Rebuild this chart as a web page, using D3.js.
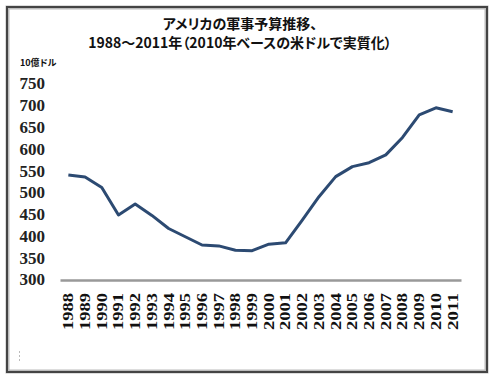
<!DOCTYPE html>
<html><head><meta charset="utf-8">
<script src="https://cdn.jsdelivr.net/npm/d3@7"></script>
<style>body{margin:0;background:#fff;}svg{display:block;}.cjk{font-feature-settings:"palt";}</style>
</head><body>
<svg id="c" width="500" height="375"></svg>
<script>
const years = ["1988","1989","1990","1991","1992","1993","1994","1995","1996","1997","1998","1999","2000","2001","2002","2003","2004","2005","2006","2007","2008","2009","2010","2011"];
const spending = [539,534,510,447,472,446,416,397,378,376,366,365,380,383,435,489,535,558,567,585,625,677,693,684];
const yTicks = [300,350,400,450,500,550,600,650,700,750];
const titleLines = ["アメリカの軍事予算推移、","1988～2011年（2010年ベースの米ドルで実質化）"];
const unitLabel = "10億ドル";

const svg = d3.select("#c");
// frame
svg.append("rect").attr("x",7.5).attr("y",7.5).attr("width",479).attr("height",364)
  .attr("fill","#fff").attr("stroke","#bbb").attr("stroke-width",4);
svg.append("rect").attr("x",7).attr("y",7).attr("width",480).attr("height",365)
  .attr("fill","none").attr("stroke","#444").attr("stroke-width",2);

const x = d3.scaleBand().domain(years).range([60,461]).padding(0);
const y = d3.scaleLinear().domain([300,750]).range([279,83]);

// title
svg.append("g").selectAll("text").data(titleLines).join("text")
  .attr("class","cjk")
  .attr("x",240).attr("y",(d,i)=>29+i*19).attr("text-anchor","middle")
  .attr("font-family","'Noto Sans CJK JP', sans-serif").attr("font-weight","bold")
  .attr("font-size",14).attr("fill","#111").text(d=>d);

svg.append("text").attr("class","cjk").attr("x",20).attr("y",66)
  .attr("font-family","'Noto Sans CJK JP', sans-serif").attr("font-weight","bold")
  .attr("font-size",9).attr("fill","#111").text(unitLabel);

// y axis labels
const yAxis = d3.axisLeft(y).tickValues(yTicks).tickSize(0).tickPadding(0);
const gy = svg.append("g").attr("transform","translate(45,0)").call(yAxis);
gy.select(".domain").remove();
gy.selectAll("text").attr("font-family","'Liberation Serif', serif").attr("font-weight","bold")
  .attr("font-size",17).attr("fill","#222").attr("dy","0.35em");

// x axis
const xAxis = d3.axisBottom(x).tickSize(0).tickPadding(0);
const gx = svg.append("g").attr("transform","translate(0,280)").call(xAxis);
gx.select(".domain").attr("stroke","#999").attr("stroke-width",2.5);
gx.selectAll("text")
  .attr("font-family","'Liberation Serif', serif").attr("font-weight","bold")
  .attr("font-size",14).attr("fill","#111")
  .attr("text-anchor","end")
  .attr("transform","rotate(-90)")
  .attr("x",-13).attr("y",0).attr("dy","0.35em")
  .attr("textLength",37).attr("lengthAdjust","spacingAndGlyphs");

// line
const line = d3.line().x((d,i)=>x(years[i])+x.bandwidth()/2).y(d=>y(d));
svg.append("path").datum(spending).attr("d",line)
  .attr("fill","none").attr("stroke","#2c4a72").attr("stroke-width",3)
  .attr("stroke-linejoin","round");

// small mark
svg.append("line").attr("x1",19.5).attr("x2",19.5).attr("y1",351).attr("y2",362)
  .attr("stroke","#bbb").attr("stroke-width",1).attr("stroke-dasharray","2,2");
</script>
</body></html>
